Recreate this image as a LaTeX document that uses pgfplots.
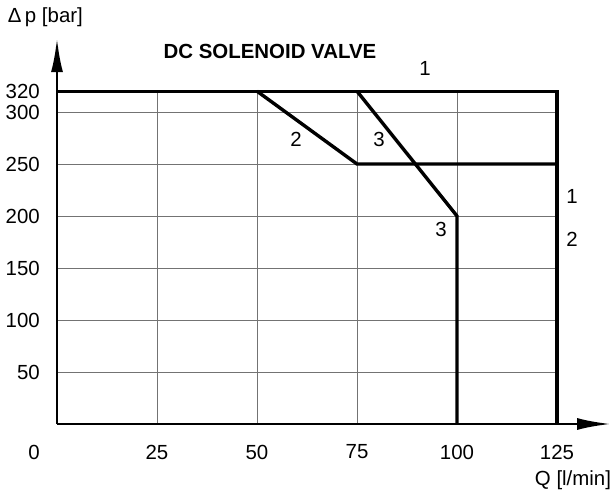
\documentclass[border=0pt]{standalone}
\usepackage{fontspec}
\setmainfont{Liberation Sans}
\usepackage{pgfplots}
\pgfplotsset{compat=1.18}
\usetikzlibrary{arrows.meta}
\begin{document}
\begin{tikzpicture}
\useasboundingbox (-57bp,-73bp) rectangle (556bp,424bp);
\begin{axis}[
  x=4bp, y=1.04bp, anchor=origin, at={(0,0)},
  xmin=0, xmax=125, ymin=0, ymax=320,
  axis lines=left, axis line style={draw=none},
  clip=false,
  xtick={25,50,75,100,125},
  ytick={50,100,150,200,250,300,320},
  major tick length=0pt,
  grid=major,
  major grid style={draw=black!55, line width=0.9bp},
  /pgf/number format/assume math mode=true,
  tick label style={font=\fontsize{20.5}{24}\selectfont},
  xticklabel style={anchor=center, inner sep=0pt, yshift=-28bp},
  yticklabel style={anchor=east, inner sep=0pt, xshift=-17bp},
]
\addplot[black, line width=3.4bp] coordinates {(0,320) (125,320) (125,0)};
\addplot[black, line width=3.4bp] coordinates {(50,320) (75,250) (125,250)};
\addplot[black, line width=3.4bp] coordinates {(75,320) (100,200) (100,0)};
\draw[line width=2.8bp, -{Latex[length=34bp,width=12bp]}] (axis cs:0,0) -- (axis cs:138.5,0);
\draw[line width=2.8bp, -{Latex[length=34bp,width=12bp]}] (axis cs:0,0) -- (axis cs:0,371);
\begin{scope}[every node/.style={font=\fontsize{20.5}{24}\selectfont, inner sep=0pt}]
\node at (axis cs:92,342) {1};
\node at (axis cs:59.75,274) {2};
\node at (axis cs:80.5,274) {3};
\node at (axis cs:96,187.5) {3};
\node at (axis cs:128.75,219) {1};
\node at (axis cs:128.75,178) {2};
\node at (axis cs:-5.75,-27) {0};
\node at (axis cs:-2.9,391) {Δ\,p [bar]};
\node at (axis cs:129,-54) {Q [l/min]};
\node[font=\fontsize{20.5}{24}\selectfont\bfseries] at (axis cs:53.25,358) {DC SOLENOID VALVE};
\end{scope}
\end{axis}
\end{tikzpicture}
\end{document}
